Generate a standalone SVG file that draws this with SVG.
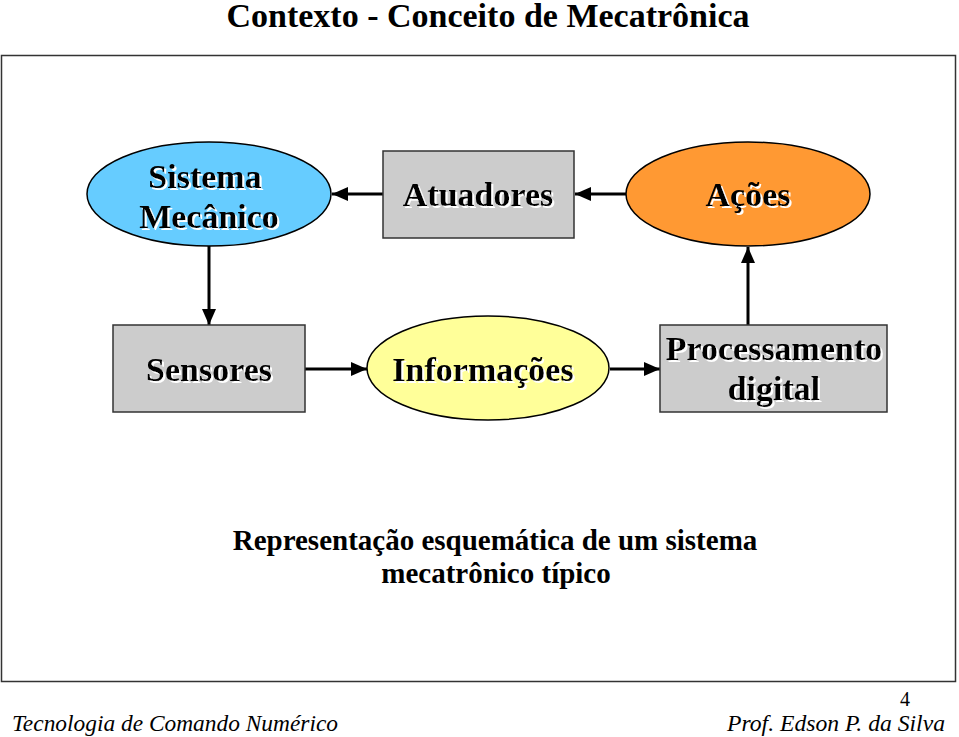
<svg xmlns="http://www.w3.org/2000/svg" width="959" height="737" viewBox="0 0 959 737">
<defs>
<marker id="ah" markerWidth="16" markerHeight="14" refX="16" refY="7" orient="auto" markerUnits="userSpaceOnUse">
<path d="M0,0 L16,7 L0,14 Z" fill="#000"/>
</marker>
<filter id="shadow" x="-5%" y="-10%" width="115%" height="130%">
<feOffset in="SourceAlpha" dx="2" dy="2" result="o"/>
<feFlood flood-color="#ffffff"/>
<feComposite in2="o" operator="in" result="s"/>
<feMerge><feMergeNode in="s"/><feMergeNode in="SourceGraphic"/></feMerge>
</filter>
</defs>
<style>
.t{font-family:"Liberation Serif","Times New Roman",serif;font-weight:bold;text-anchor:middle}
.n{font-size:34px;filter:url(#shadow)}
.c{stroke:#000;stroke-width:3;fill:none;marker-end:url(#ah)}
.box{fill:#cccccc;stroke:#333;stroke-width:1.5}
.ell{stroke:#000;stroke-width:1.5}
.f{font-family:"Liberation Serif","Times New Roman",serif;font-style:italic;font-size:24px}
</style>
<rect width="959" height="737" fill="#fff"/>
<text class="t" x="488" y="27" font-size="34">Contexto - Conceito de Mecatrônica</text>
<rect x="1.5" y="55.5" width="954" height="626" fill="#fff" stroke="#333" stroke-width="1.5"/>
<g id="connectors">
<line class="c" x1="383" y1="194" x2="332" y2="194"/>
<line class="c" x1="626" y1="194" x2="575" y2="194"/>
<line class="c" x1="209" y1="246" x2="209" y2="325"/>
<line class="c" x1="305" y1="369" x2="367" y2="369"/>
<line class="c" x1="610" y1="369" x2="660" y2="369"/>
<line class="c" x1="748" y1="325" x2="748" y2="247"/>
</g>
<g id="sistema">
<ellipse class="ell" cx="209" cy="194" rx="122" ry="52" fill="#66ccff"/>
<text class="t n" x="205" y="188">Sistema</text>
<text class="t n" x="209" y="228">Mecânico</text>
</g>
<g id="atuadores">
<rect class="box" x="383" y="151" width="191" height="87"/>
<text class="t n" x="478" y="206">Atuadores</text>
</g>
<g id="acoes">
<ellipse class="ell" cx="748" cy="194" rx="122" ry="52" fill="#ff9933"/>
<text class="t n" x="748" y="206">Ações</text>
</g>
<g id="sensores">
<rect class="box" x="113" y="325" width="192" height="87"/>
<text class="t n" x="209" y="381">Sensores</text>
</g>
<g id="informacoes">
<ellipse class="ell" cx="488" cy="368" rx="121" ry="52" fill="#ffff99"/>
<text class="t n" x="483" y="381">Informações</text>
</g>
<g id="processamento">
<rect class="box" x="660" y="325" width="227" height="87"/>
<text class="t n" x="774" y="360">Processamento</text>
<text class="t n" x="774" y="400">digital</text>
</g>
<text class="t" x="495" y="550" font-size="29">Representação esquemática de um sistema</text>
<text class="t" x="496" y="583" font-size="29">mecatrônico típico</text>
<text x="905" y="706" font-family="Liberation Serif,serif" font-size="20" text-anchor="middle">4</text>
<text class="f" x="12" y="731" textLength="326" lengthAdjust="spacingAndGlyphs">Tecnologia de Comando Numérico</text>
<text class="f" x="945" y="731" text-anchor="end" textLength="218" lengthAdjust="spacingAndGlyphs">Prof. Edson P. da Silva</text>
</svg>
